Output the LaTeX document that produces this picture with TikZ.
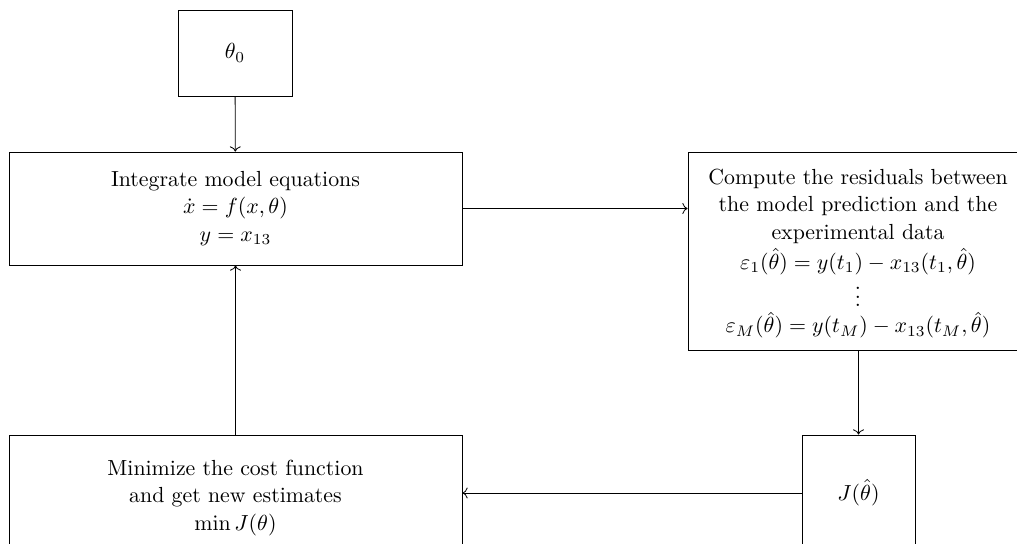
\RequirePackage{fix-cm}
\documentclass[tikz,border=0pt]{standalone}
\usepackage{amsmath}
\usetikzlibrary{arrows.meta}
\begin{document}
\begin{tikzpicture}[x=0.4762pt,y=-0.4762pt,
  box/.style={draw,inner sep=0pt,align=center,font=\fontsize{10.4pt}{13.2pt}\selectfont},
  flow/.style={->}]
\useasboundingbox[clip] (0,0) rectangle (1017,544);
% blocks, sizes given in units of the drawing grid
\node[box,minimum width=114*0.4762pt,minimum height=86*0.4762pt] (init) at (235,53) {$\theta_0$};
\node[box,minimum width=453*0.4762pt,minimum height=113*0.4762pt] (integ) at (235.5,208.5)
  {Integrate model equations\\ $\dot{x}=f(x,\theta)$\\ $y=x_{13}$};
\node[box,minimum width=340*0.4762pt,minimum height=198*0.4762pt] (resid) at (858,251)
  {\rule{0pt}{9.7pt}Compute the residuals between\\ the model prediction and the\\ experimental data\\[1.1pt]
   $\varepsilon_1(\hat{\theta})=y(t_1)-x_{13}(t_1,\hat{\theta})$\\[-1pt] $\vdots$\\[-0.7pt]
   $\varepsilon_M(\hat{\theta})=y(t_M)-x_{13}(t_M,\hat{\theta})$};
\node[box,minimum width=113*0.4762pt,minimum height=116*0.4762pt] (cost) at (858.5,493) {$J(\hat{\theta})$};
\node[box,minimum width=453*0.4762pt,minimum height=126*0.4762pt] (mini) at (235.5,498)
  {Minimize the cost function\\ and get new estimates\\ $\min J(\theta)$};
% connectors
\draw[flow] (init) -- (integ);
\draw[flow] (integ) -- (integ -| resid.west);
\draw[flow] (resid.south -| cost) -- (cost);
\draw[flow] (cost.west) -- (cost.west -| mini.east);
\draw[flow] (mini) -- (integ);
\end{tikzpicture}
\end{document}
